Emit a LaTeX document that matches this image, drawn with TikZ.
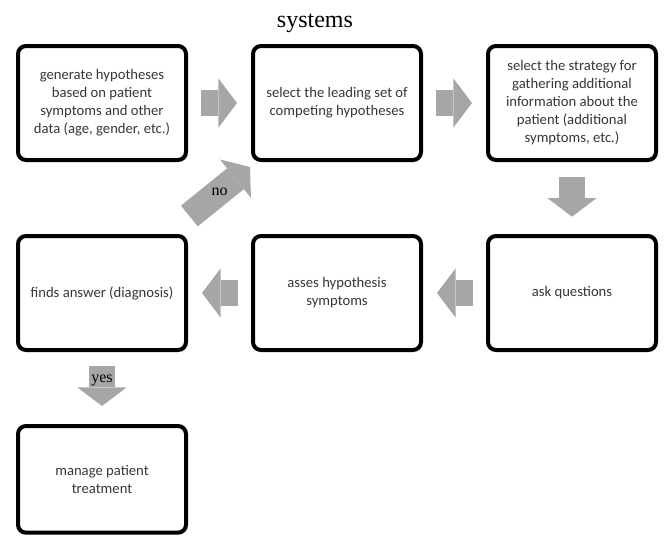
\documentclass[tikz,border=0pt]{standalone}
\usepackage{fontspec}
\setmainfont{Carlito}
\newfontfamily\lblfont{Liberation Serif}
\usepackage{xcolor}
\usepackage{tikz}
\usetikzlibrary{arrows.meta, positioning}
\definecolor{arrowgray}{RGB}{166,166,166}
\definecolor{boxtext}{RGB}{55,55,55}
\tikzset{
  stepbox/.style={rectangle, draw, line width=3pt, fill=white, rounded corners=6pt, minimum width=126pt, minimum height=85.5pt, inner sep=0pt, align=center, text=boxtext, font=\fontsize{11}{13.5}\selectfont},
  blockarr/.style={color=arrowgray, line width=20pt, -{Triangle[length=14pt, width=37pt, line width=0pt]}, shorten <=10pt, shorten >=10.5pt},
  lbl/.style={font=\lblfont\fontsize{12}{14}\selectfont, text=black, inner sep=0pt},
}

\begin{document}
\begin{tikzpicture}[node distance=54pt and 47.25pt]
  \useasboundingbox (0,0) rectangle (498.75pt,-402pt);
  % Nodes
  \node[font=\lblfont\fontsize{18}{20}\selectfont, anchor=base] (title) at (236.25pt,-20.25pt) {systems};
  \node[stepbox] (gen) at (76.5pt,-77.25pt) {generate hypotheses\\based on patient\\symptoms and other\\data (age, gender, etc.)};
  \node[stepbox, right=of gen] (lead) {select the leading set of\\competing hypotheses};
  \node[stepbox, right=of lead] (strat) {select the strategy for\\gathering additional\\information about the\\patient (additional\\symptoms, etc.)};
  \node[stepbox, below=of strat] (ask) {ask questions};
  \node[stepbox, left=of ask] (asses) {asses hypothesis\\symptoms};
  \node[stepbox, left=of asses] (find) {finds answer (diagnosis)};
  \node[stepbox, minimum height=80pt, below=of find] (manage) {manage patient\\treatment};

  % Arrows
  \draw[blockarr] (gen) -- (lead);
  \draw[blockarr] (lead) -- (strat);
  \draw[blockarr, shorten <=11pt, shorten >=13pt] (strat) -- (ask);
  \draw[blockarr] (ask) -- (asses);
  \draw[blockarr] (asses) -- (find);
  \draw[blockarr, shorten <=0pt, shorten >=0pt] ([shift={(1pt,13.5pt)}]find.north east) -- node[lbl]{no} ([shift={(-0.75pt,-3.75pt)}]lead.south west);
  \draw[blockarr, shorten <=10.5pt, shorten >=13.5pt] (find) -- node[lbl, pos=0.4]{yes} (manage);
\end{tikzpicture}
\end{document}
